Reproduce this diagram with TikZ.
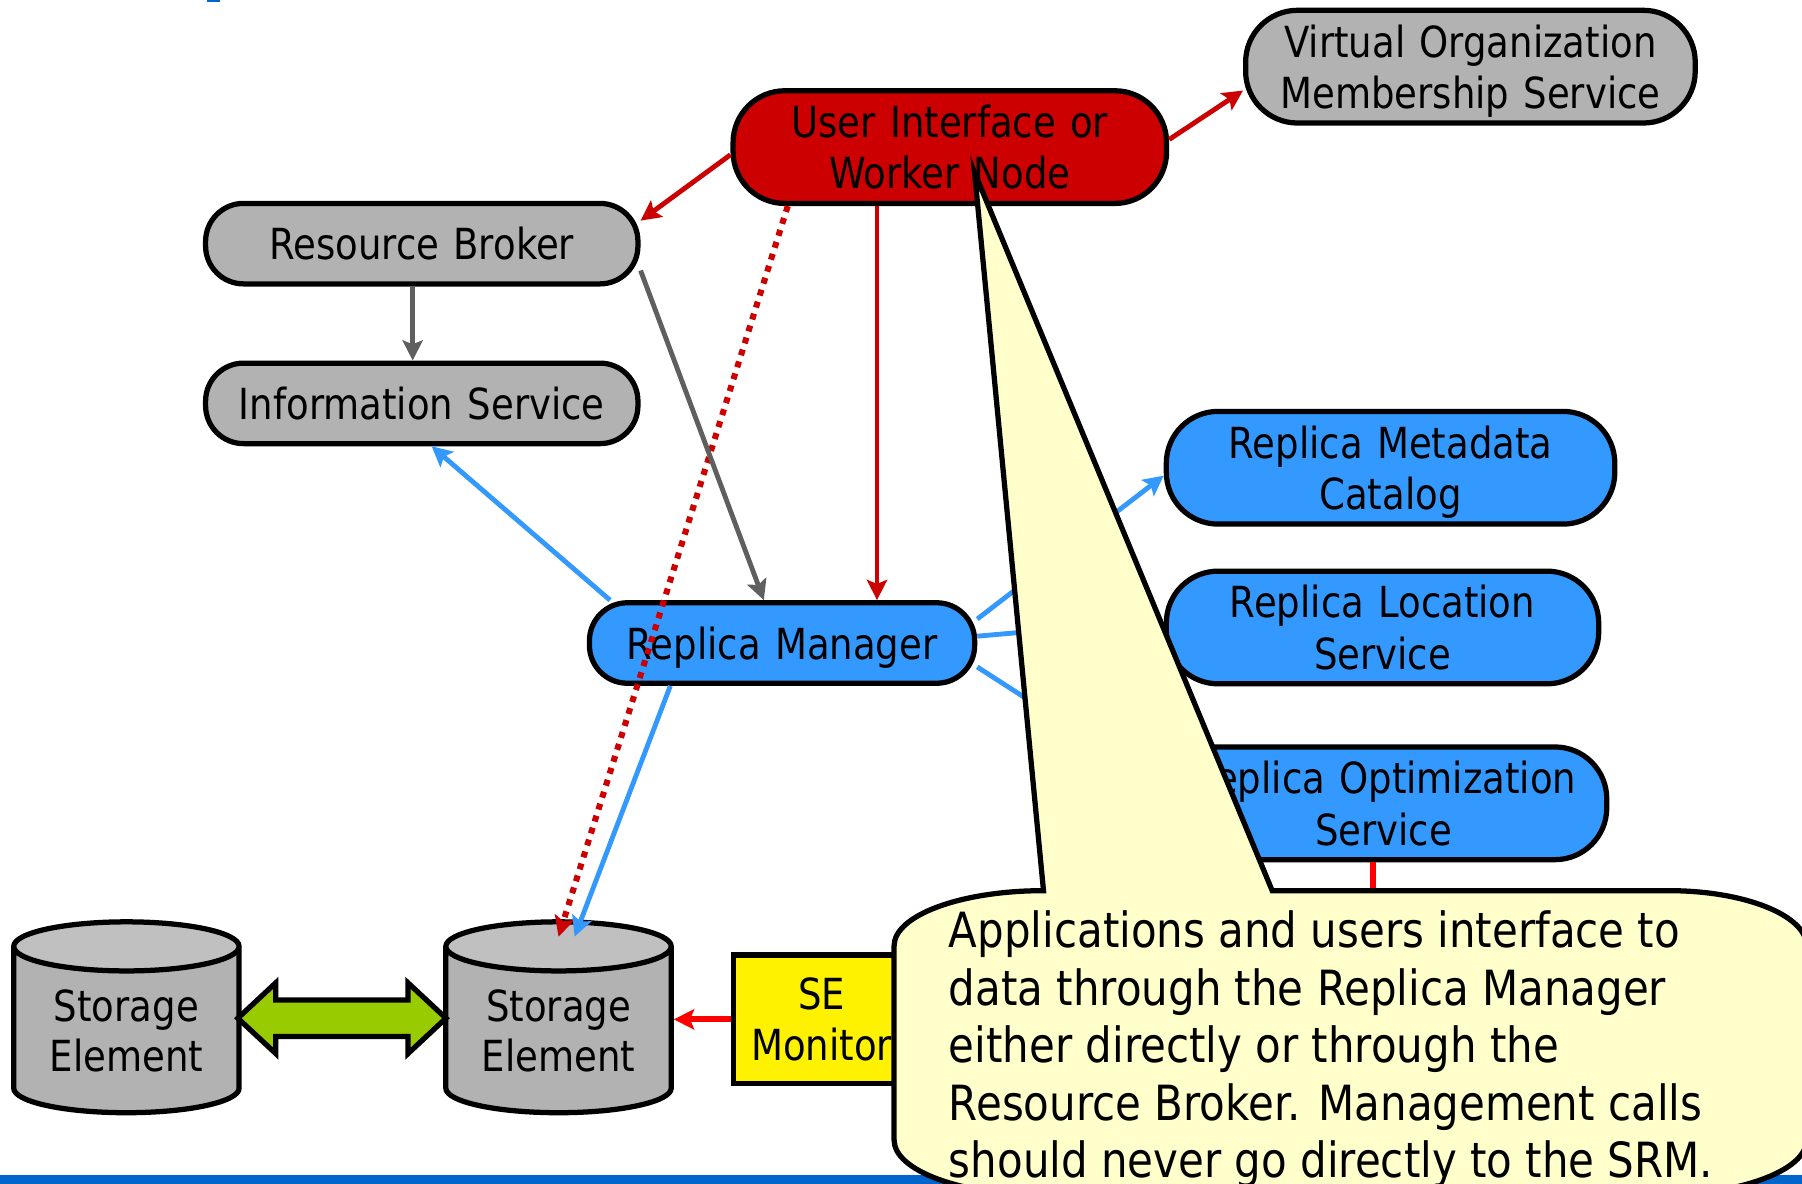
\documentclass[tikz,border=0pt]{standalone}
\usepackage{amsmath}
\usepackage{fontspec}
\setmainfont[FakeStretch=0.865]{DejaVu Sans}
\usetikzlibrary{arrows.meta, shapes.geometric, shapes.arrows}

\definecolor{servgray}{HTML}{B2B2B2}
\definecolor{endgray}{HTML}{C0C0C0}
\definecolor{linkgray}{HTML}{5F5F5F}
\definecolor{uired}{HTML}{CC0000}
\definecolor{repblue}{HTML}{3399FF}
\definecolor{barblue}{HTML}{0066CC}
\definecolor{notefill}{HTML}{FFFFCC}
\definecolor{linkgreen}{HTML}{99CC00}

\tikzset{
	service/.style={draw, line width=1.3pt, rounded corners=0.45cm, align=center, inner sep=0pt, text width=3.7cm, minimum height=0.98cm, font=\fontsize{10.6}{12.8}\selectfont},
	shortservice/.style={service, rounded corners=0.33cm, minimum height=0.70cm},
	store/.style={draw, line width=1.3pt, cylinder, shape border rotate=90, shape aspect=0.32, cylinder uses custom fill, cylinder body fill=servgray, cylinder end fill=endgray, minimum width=1.96cm, minimum height=1.66cm, inner sep=0pt, align=center, font=\fontsize{10.6}{12.6}\selectfont},
	link/.style={->, line width=1.2pt},
	>={Stealth[length=5pt, width=5pt, inset=1pt]}
}

\begin{document}
\begin{tikzpicture}[x=0.01cm, y=-0.01cm]
	\useasboundingbox (0,0) rectangle (1568,1030);
	\clip (0,0) rectangle (1568,1030);

	\fill [barblue] (0,1022) rectangle (1568,1030);
	\fill [barblue] (180,0) rectangle (191,1.5);

	\node [service, fill=servgray, minimum width=3.91cm] (vo) at (1279.5,58) {Virtual Organization\\\smash[b]{Membership Service}};
	\node [service, fill=uired, minimum width=3.77cm] (ui) at (826.5,128) {User Interface or\\Worker Node};
	\node [shortservice, fill=servgray, minimum width=3.76cm] (rb) at (367,212) {Resource Broker};
	\node [shortservice, fill=servgray, minimum width=3.76cm] (is) at (367,351) {Information Service};
	\node [shortservice, fill=repblue, text width=3.35cm, minimum width=3.35cm] (rm) at (680.5,559.5) {\smash[b]{Replica Manager}};
	\node [service, fill=repblue, minimum width=3.90cm] (rmc) at (1210,407) {Replica Metadata\\\smash[b]{Catalog}};
	\node [service, fill=repblue, minimum width=3.76cm] (rls) at (1203,546) {Replica Location\\Service};
	\node [service, fill=repblue, minimum width=3.88cm] (ros) at (1204,699) {Replica Optimization\\Service};

	\node [store] (se1) at (110,897) {Storage\\Element};
	\node [store] (se2) at (486,897) {Storage\\Element};
	\node [draw, line width=1.3pt, fill=yellow, minimum width=1.54cm, minimum height=1.12cm, inner sep=0pt, align=center, font=\fontsize{10.6}{12.8}\selectfont] (mon) at (715,887) {SE\\Monitor};
	\node [draw, line width=1.3pt, fill=linkgreen, double arrow, double arrow tip angle=86, double arrow head extend=0.15cm, inner xsep=0pt, inner ysep=0.135cm, minimum height=1.81cm] (dup) at (297.5,886) {};

	\coordinate (sered) at (486,815);
	\coordinate (seblue) at (500,815);

	% arrows out of the user interface
	\draw [link, uired] (ui.2) -- (vo.186.4);
	\draw [link, uired] (ui.182) -- (rb.6.7);
	\draw [link, uired] (ui.219) -- (ui.219 |- rm.north);
	\draw [link, uired, line width=1.5pt, dash pattern=on 1.5pt off 1.6pt] (ui.200.3) -- (sered);

	\draw [link, linkgray] (rb.258.7) -- (rb.258.7 |- is.north);
	\draw [link, linkgray] (rb.353.9) -- (rm.113.6);

	% arrows out of the replica manager
	\draw [link, repblue] (rm.166.8) -- (is.283);
	\draw [link, repblue] (rm.201.5) -- (seblue);
	\draw [link, repblue] (rm.7.3) -- (rmc.182.3);
	\draw [link, repblue] (rm.2.6) -- (rls.178.2);
	\draw [link, repblue] (rm.353) -- (ros.175.6);

	\draw [link, red, line width=1.5pt] (mon.west) -- (mon.west -| se2.0);
	\draw [link, red, line width=1.5pt] (ros.south -| 1195,0) |- (mon.east);

	\draw [line width=1.3pt, fill=notefill] (848,150) -- (1107,775) -- (1452,775) .. controls (1518,775) and (1572,796.5) .. (1572,823) -- (1572,992) .. controls (1572,1018.5) and (1514,1040) .. (1442,1040) -- (908,1040) .. controls (836,1040) and (778,1018.5) .. (778,992) -- (778,823) .. controls (778,796.5) and (836,775) .. (908,775) -- cycle;
	\node [anchor=north west, align=left, inner sep=0pt, font=\fontsize{12}{14.2}\selectfont] (note) at (825,792) {Applications and users interface to\\data through the Replica Manager\\either directly or through the\\Resource Broker. Management calls\\should never go directly to the SRM.};
\end{tikzpicture}
\end{document}
